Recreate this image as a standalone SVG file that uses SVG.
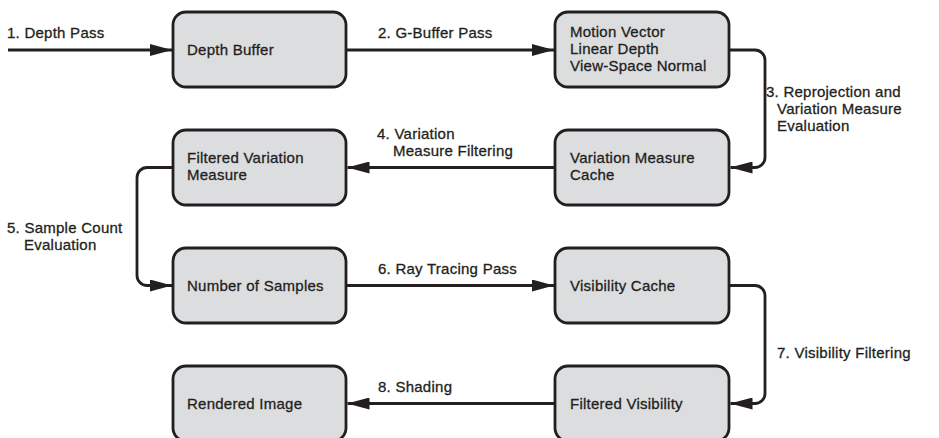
<svg xmlns="http://www.w3.org/2000/svg" width="939" height="438" viewBox="0 0 939 438">
<style>
.box{fill:#dcdddf;stroke:#231f20;stroke-width:2.8}
.t{font-family:"Liberation Sans",Arial,sans-serif;font-size:15px;letter-spacing:0.25px;fill:#231f20;stroke:#231f20;stroke-width:0.3}
.c{fill:none;stroke:#231f20;stroke-width:2.8;marker-end:url(#ah)}
</style>
<defs>
<marker id="ah" viewBox="0 0 22 12" refX="22" refY="6" markerWidth="22" markerHeight="12" markerUnits="userSpaceOnUse" orient="auto">
<path d="M0,0 L22,6 L0,12 z" fill="#231f20"/>
</marker>
</defs>
<g id="connectors">
<path class="c" d="M8,50 H172"/>
<path class="c" d="M346,50 H554"/>
<path class="c" d="M729,50 H755 A10,10 0 0 1 765,60 V157.5 A10,10 0 0 1 755,167.5 H730.5"/>
<path class="c" d="M555,167.5 H347.5"/>
<path class="c" d="M173,167.5 H147 A10,10 0 0 0 137,177.5 V275.5 A10,10 0 0 0 147,285.5 H172"/>
<path class="c" d="M346,285.5 H554"/>
<path class="c" d="M729,285.5 H755 A10,10 0 0 1 765,295.5 V393.5 A10,10 0 0 1 755,403.5 H730.5"/>
<path class="c" d="M555,403.5 H347.5"/>
<text class="t" x="7" y="38">1. Depth Pass</text>
<text class="t" x="378" y="38">2. G-Buffer Pass</text>
<text class="t" x="766" y="97">3. Reprojection and</text>
<text class="t" x="777" y="114">Variation Measure</text>
<text class="t" x="777" y="131">Evaluation</text>
<text class="t" x="377" y="139">4. Variation</text>
<text class="t" x="393" y="156">Measure Filtering</text>
<text class="t" x="7" y="233">5. Sample Count</text>
<text class="t" x="24" y="250">Evaluation</text>
<text class="t" x="378" y="274">6. Ray Tracing Pass</text>
<text class="t" x="777" y="358">7. Visibility Filtering</text>
<text class="t" x="378" y="392">8. Shading</text>
</g>
<g id="depth-buffer">
<rect class="box" x="173" y="12" width="173" height="75" rx="13"/>
<text class="t" x="187" y="55">Depth Buffer</text>
</g>
<g id="gbuffer">
<rect class="box" x="555" y="12" width="174" height="75" rx="13"/>
<text class="t" x="570" y="37">Motion Vector</text>
<text class="t" x="570" y="54">Linear Depth</text>
<text class="t" x="570" y="71">View-Space Normal</text>
</g>
<g id="variation-cache">
<rect class="box" x="555" y="130" width="174" height="75" rx="13"/>
<text class="t" x="570" y="163">Variation Measure</text>
<text class="t" x="570" y="180">Cache</text>
</g>
<g id="filtered-variation">
<rect class="box" x="173" y="130" width="173" height="75" rx="13"/>
<text class="t" x="187" y="163">Filtered Variation</text>
<text class="t" x="187" y="180">Measure</text>
</g>
<g id="num-samples">
<rect class="box" x="173" y="248" width="173" height="75" rx="13"/>
<text class="t" x="187" y="291">Number of Samples</text>
</g>
<g id="visibility-cache">
<rect class="box" x="555" y="248" width="174" height="75" rx="13"/>
<text class="t" x="570" y="291">Visibility Cache</text>
</g>
<g id="filtered-visibility">
<rect class="box" x="555" y="366" width="174" height="75" rx="13"/>
<text class="t" x="570" y="409">Filtered Visibility</text>
</g>
<g id="rendered-image">
<rect class="box" x="173" y="366" width="173" height="75" rx="13"/>
<text class="t" x="187" y="409">Rendered Image</text>
</g>
</svg>
